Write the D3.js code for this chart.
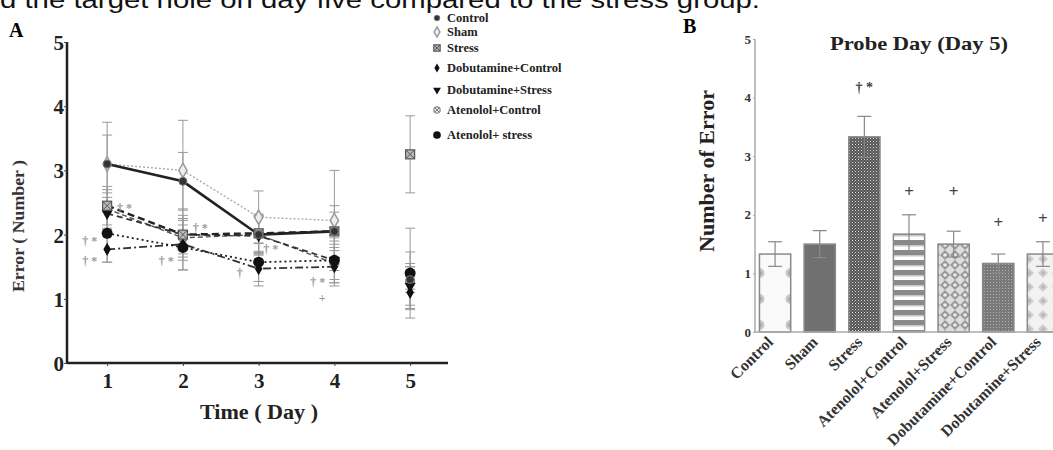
<!DOCTYPE html>
<html>
<head>
<meta charset="utf-8">
<script src="https://cdn.jsdelivr.net/npm/d3@7"></script>
<style>
body { margin: 0; background: #fff; }
svg { display: block; }
</style>
</head>
<body>
<div id="grafica"></div>
<script>
// ---- datos panel A (errores por dia)
var dias = [1, 2, 3, 4, 5];
var grupos = ['Control', 'Sham', 'Stress', 'Dobutamine+Control', 'Dobutamine+Stress', 'Atenolol+Control', 'Atenolol+ stress'];
var control     = [3.10, 2.83, 2.00, 2.05, 1.30];
var sham        = [3.10, 3.00, 2.27, 2.22, 1.35];
var stress      = [2.45, 2.00, 2.02, 2.05, 3.25];
var dobControl  = [1.77, 1.85, 1.47, 1.50, 1.10];
var dobStress   = [2.33, 2.00, 1.98, 1.60, 1.20];
var atenControl = [2.40, 1.95, 2.00, 1.55, 1.28];
var atenStress  = [2.02, 1.80, 1.57, 1.60, 1.40];
var controlErr     = [0.45, 0.45, 0.30, 0.40, 0.20];
var shamErr        = [0.65, 0.78, 0.41, 0.78, 0.20];
var stressErr      = [0.30, 0.40, 0.30, 0.30, 0.60];
var dobControlErr  = [0.20, 0.40, 0.27, 0.30, 0.25];
var dobStressErr   = [0.25, 0.30, 0.30, 0.35, 0.30];
var atenControlErr = [0.30, 0.30, 0.30, 0.30, 0.45];
var atenStressErr  = [0.45, 0.35, 0.30, 0.30, 0.70];
var yTicksA = [0, 1, 2, 3, 4, 5];
// marcas de significancia (dia, valor, texto)
var marcaDia   = [0.77, 0.77, 1.23, 1.78, 2.23, 2.75, 3.16, 3.78, 3.84];
var marcaValor = [1.90, 1.59, 2.41, 1.59, 2.10, 1.40, 1.78, 1.26, 1.01];
var marcaTexto = ['† *', '† *', '† *', '† *', '† *', '†', '† *', '† *', '+'];

// ---- datos panel B (probe day)
var categorias = ['Control', 'Sham', 'Stress', 'Atenolol+Control', 'Atenolol+Stress', 'Dobutamine+Control', 'Dobutamine+Stress'];
var errores    = [1.33, 1.50, 3.33, 1.67, 1.50, 1.17, 1.33];
var sem        = [0.21, 0.23, 0.35, 0.33, 0.22, 0.16, 0.21];
var signos     = ['', '', '† *', '+', '+', '+', '+'];
var signoValor = [0, 0, 4.18, 2.40, 2.40, 1.88, 1.95];
var yTicksB = [0, 1, 2, 3, 4, 5];

var serif = "'Liberation Serif', 'DejaVu Serif', serif";

var svg = d3.select("#grafica")
	.append('svg')
	.attr("width", 1053)
	.attr("height", 450)
	.attr('id', 'svgraf');

// texto de la leyenda del articulo (cortado arriba)
svg.append("text")
	.attr("x", 0)
	.attr("y", 8)
	.attr("font-family", "'Liberation Sans', Arial, sans-serif")
	.attr("font-size", "24px")
	.attr("textLength", 760)
	.attr("lengthAdjust", "spacingAndGlyphs")
	.attr("fill", "#111")
	.text("d the target hole on day five compared to the stress group.");

// ================= PANEL A =================
var xA = d3.scaleLinear().domain([0.47, 5.5]).range([67, 448]);
var yA = d3.scaleLinear().domain([0, 5]).range([363, 42]);

var panelA = svg.append("g");

panelA.append("text")
	.attr("x", 9).attr("y", 37)
	.attr("font-family", serif).attr("font-weight", "bold")
	.attr("font-size", "20px")
	.text("A");

// ejes
var ejeYA = panelA.append("g")
	.attr("transform", "translate(67,0)")
	.call(d3.axisLeft(yA).tickValues(yTicksA).tickSize(3).tickFormat(d3.format("d")));
ejeYA.select(".domain").attr("stroke", "#222").attr("stroke-width", 2.5).attr("d", "M0," + yA(5) + "V" + yA(0));
ejeYA.selectAll(".tick line").attr("stroke", "#444");
ejeYA.selectAll(".tick text")
	.attr("font-family", serif).attr("font-weight", "bold")
	.attr("font-size", "21px").attr("fill", "#222")
	.attr("x", -3).attr("dy", "0.36em");

var ejeXA = panelA.append("g")
	.attr("transform", "translate(0,363)")
	.call(d3.axisBottom(xA).tickValues(dias).tickSize(3).tickFormat(d3.format("d")));
ejeXA.select(".domain").attr("stroke", "#222").attr("stroke-width", 2.5).attr("d", "M67,0H448");
ejeXA.selectAll(".tick line").attr("stroke", "#444");
ejeXA.selectAll(".tick text")
	.attr("font-family", serif).attr("font-weight", "bold")
	.attr("font-size", "21px").attr("fill", "#222")
	.attr("y", 10);

panelA.append("text")
	.attr("transform", "translate(24,226) rotate(-90)")
	.attr("text-anchor", "middle")
	.attr("font-family", serif).attr("font-weight", "bold")
	.attr("font-size", "16px").attr("fill", "#333")
	.attr("textLength", 132).attr("lengthAdjust", "spacingAndGlyphs")
	.text("Error ( Number )");

panelA.append("text")
	.attr("x", 259).attr("y", 419)
	.attr("text-anchor", "middle")
	.attr("font-family", serif).attr("font-weight", "bold")
	.attr("font-size", "20px").attr("fill", "#222")
	.attr("textLength", 118).attr("lengthAdjust", "spacingAndGlyphs")
	.text("Time ( Day )");

// estilos de cada serie
var valores = [control, sham, stress, dobControl, dobStress, atenControl, atenStress];
var errs = [controlErr, shamErr, stressErr, dobControlErr, dobStressErr, atenControlErr, atenStressErr];
var rayas = [null, "2,2", "7,4", "8,3,2,3", "6,4", "5,3", "2,3"];
var grosor = [2.6, 1.4, 2.4, 1.8, 1.8, 1.4, 1.8];
var colorLinea = ["#222", "#aaa", "#222", "#333", "#333", "#555", "#222"];
var marcador = ["circle", "diamondOpen", "squareX", "diamond", "triangle", "circleX", "dot"];

function dibujaMarcador(g, tipo, x, y, k) {
	k = k || 1;
	if (tipo == "circle") {
		g.append("circle").attr("cx", x).attr("cy", y).attr("r", 4 * k).attr("fill", "#333").attr("stroke", "#777");
	} else if (tipo == "diamondOpen") {
		g.append("path").attr("d", d3.symbol(d3.symbolDiamond, 60 * k * k)())
			.attr("transform", "translate(" + x + "," + y + ")")
			.attr("fill", "#eee").attr("stroke", "#999").attr("stroke-width", 1.5);
	} else if (tipo == "squareX") {
		var s = 4.5 * k;
		g.append("rect").attr("x", x - s).attr("y", y - s).attr("width", 2 * s).attr("height", 2 * s)
			.attr("fill", "#bbb").attr("stroke", "#555").attr("stroke-width", 1.2);
		g.append("path").attr("d", "M" + (x - s) + "," + (y - s) + "L" + (x + s) + "," + (y + s) + "M" + (x + s) + "," + (y - s) + "L" + (x - s) + "," + (y + s))
			.attr("stroke", "#555").attr("stroke-width", 1);
	} else if (tipo == "diamond") {
		g.append("path").attr("d", d3.symbol(d3.symbolDiamond, 50 * k * k)())
			.attr("transform", "translate(" + x + "," + y + ")").attr("fill", "#111");
	} else if (tipo == "triangle") {
		g.append("path").attr("d", d3.symbol(d3.symbolTriangle, 55 * k * k)())
			.attr("transform", "translate(" + x + "," + y + ") rotate(180)").attr("fill", "#111");
	} else if (tipo == "circleX") {
		var r = 4.5 * k;
		g.append("circle").attr("cx", x).attr("cy", y).attr("r", r).attr("fill", "#eee").attr("stroke", "#888").attr("stroke-width", 1.2);
		var d = r * 0.7;
		g.append("path").attr("d", "M" + (x - d) + "," + (y - d) + "L" + (x + d) + "," + (y + d) + "M" + (x + d) + "," + (y - d) + "L" + (x - d) + "," + (y + d))
			.attr("stroke", "#777").attr("stroke-width", 1);
	} else {
		g.append("circle").attr("cx", x).attr("cy", y).attr("r", 5.5 * k).attr("fill", "#111");
	}
}

// barras de error
var capaErr = panelA.append("g");
for (var s = 0; s < valores.length; s++) {
	for (var i = 0; i < dias.length; i++) {
		var cx = xA(dias[i]);
		var arriba = yA(valores[s][i] + errs[s][i]);
		var abajo = yA(valores[s][i] - errs[s][i]);
		capaErr.append("line").attr("x1", cx).attr("x2", cx).attr("y1", arriba).attr("y2", abajo)
			.attr("stroke", "#999").attr("stroke-width", 1);
		[arriba, abajo].forEach(function (yy) {
			capaErr.append("line").attr("x1", cx - 5).attr("x2", cx + 5).attr("y1", yy).attr("y2", yy)
				.attr("stroke", "#999").attr("stroke-width", 1);
		});
	}
}

// lineas (dias 1-4)
var linea = d3.line().x(function (d) { return xA(d[0]); }).y(function (d) { return yA(d[1]); });
var orden = [1, 5, 3, 4, 6, 2, 0];
orden.forEach(function (s) {
	var pts = dias.slice(0, 4).map(function (d, i) { return [d, valores[s][i]]; });
	panelA.append("path")
		.attr("d", linea(pts))
		.attr("fill", "none")
		.attr("stroke", colorLinea[s])
		.attr("stroke-width", grosor[s])
		.attr("stroke-dasharray", rayas[s]);
});

// marcadores
orden.forEach(function (s) {
	for (var i = 0; i < dias.length; i++) {
		dibujaMarcador(panelA, marcador[s], xA(dias[i]), yA(valores[s][i]), 1);
	}
});

// marcas de significancia
for (var m = 0; m < marcaDia.length; m++) {
	panelA.append("text")
		.attr("x", xA(marcaDia[m]))
		.attr("y", yA(marcaValor[m]))
		.attr("dy", "0.35em")
		.attr("text-anchor", "middle")
		.attr("font-family", serif).attr("font-weight", "bold")
		.attr("font-size", "12px").attr("fill", "#9a9a9a")
		.text(marcaTexto[m]);
}

// leyenda
var leyendaY = [18, 32, 48, 68, 90, 110, 135];
grupos.forEach(function (nombre, s) {
	dibujaMarcador(panelA, marcador[s], 437, leyendaY[s], 0.7);
	panelA.append("text")
		.attr("x", 447).attr("y", leyendaY[s])
		.attr("dy", "0.35em")
		.attr("font-family", serif).attr("font-weight", "bold")
		.attr("font-size", "12.5px").attr("fill", "#222")
		.text(nombre);
});

// ================= PANEL B =================
var defs = svg.append("defs");
function patron(id, w, h, fondo, dibuja) {
	var p = defs.append("pattern").attr("id", id).attr("patternUnits", "userSpaceOnUse")
		.attr("width", w).attr("height", h);
	p.append("rect").attr("width", w).attr("height", h).attr("fill", fondo);
	dibuja(p);
}
patron("pControl", 31, 26, "#fafafa", function (p) {
	p.append("circle").attr("cx", 15.5).attr("cy", 13).attr("r", 5).attr("fill", "#c8c8c8");
	p.append("circle").attr("cx", 15.5).attr("cy", 13).attr("r", 2.5).attr("fill", "#aaa");
});
patron("pSham", 4, 4, "#707070", function (p) {});
patron("pStress", 3, 3, "#555", function (p) {
	p.append("rect").attr("x", 0).attr("y", 0).attr("width", 1).attr("height", 1).attr("fill", "#ddd");
	p.append("rect").attr("x", 1.5).attr("y", 1.5).attr("width", 1).attr("height", 1).attr("fill", "#aaa");
});
patron("pAtenC", 10, 10, "#fff", function (p) {
	p.append("rect").attr("x", 0).attr("y", 0).attr("width", 10).attr("height", 5).attr("fill", "#8a8a8a");
	p.append("rect").attr("x", 0).attr("y", 5).attr("width", 10).attr("height", 1.5).attr("fill", "#c8c8c8");
});
patron("pAtenS", 10, 10, "#ddd", function (p) {
	p.append("path").attr("d", "M5,0L10,5L5,10L0,5Z").attr("fill", "#999");
	p.append("circle").attr("cx", 5).attr("cy", 5).attr("r", 1.8).attr("fill", "#eee");
});
patron("pDobC", 3, 3, "#7a7a7a", function (p) {
	p.append("rect").attr("x", 0).attr("y", 0).attr("width", 1).attr("height", 1).attr("fill", "#b0b0b0");
});
patron("pDobS", 14, 14, "#f2f2f2", function (p) {
	p.append("path").attr("d", "M7,2L12,7L7,12L2,7Z").attr("fill", "#d0d0d0");
	p.append("circle").attr("cx", 7).attr("cy", 7).attr("r", 2).attr("fill", "#bbb");
});
var rellenos = ["url(#pControl)", "url(#pSham)", "url(#pStress)", "url(#pAtenC)", "url(#pAtenS)", "url(#pDobC)", "url(#pDobS)"];

var xB = d3.scaleBand().domain(categorias).range([755, 1063]).paddingInner(0.3).paddingOuter(0.1);
var yB = d3.scaleLinear().domain([0, 5]).range([332, 39]);

var panelB = svg.append("g");

panelB.append("text")
	.attr("x", 683).attr("y", 33)
	.attr("font-family", serif).attr("font-weight", "bold")
	.attr("font-size", "20px")
	.text("B");

panelB.append("text")
	.attr("x", 919).attr("y", 50)
	.attr("text-anchor", "middle")
	.attr("font-family", serif).attr("font-weight", "bold")
	.attr("font-size", "19px").attr("fill", "#222")
	.attr("textLength", 178).attr("lengthAdjust", "spacingAndGlyphs")
	.text("Probe Day (Day 5)");

panelB.append("text")
	.attr("transform", "translate(714,171) rotate(-90)")
	.attr("text-anchor", "middle")
	.attr("font-family", serif).attr("font-weight", "bold")
	.attr("font-size", "20px").attr("fill", "#222")
	.attr("textLength", 162).attr("lengthAdjust", "spacingAndGlyphs")
	.text("Number of Error");

var ejeYB = panelB.append("g")
	.attr("transform", "translate(755,0)")
	.call(d3.axisLeft(yB).tickValues(yTicksB).tickSize(2).tickFormat(d3.format("d")));
ejeYB.select(".domain").attr("stroke", "#aaa").attr("stroke-width", 1.5).attr("d", "M0," + yB(5) + "V" + yB(0));
ejeYB.selectAll(".tick line").attr("stroke", "#aaa");
ejeYB.selectAll(".tick text")
	.attr("font-family", serif).attr("font-weight", "bold")
	.attr("font-size", "13px").attr("fill", "#333").attr("x", -4);

// barras
panelB.selectAll(".barra")
	.data(categorias)
	.enter().append("rect")
	.attr("class", "barra")
	.attr("x", function (d) { return xB(d); })
	.attr("y", function (d, i) { return yB(errores[i]); })
	.attr("width", xB.bandwidth())
	.attr("height", function (d, i) { return yB(0) - yB(errores[i]); })
	.attr("fill", function (d, i) { return rellenos[i]; })
	.attr("stroke", "#8a8a8a")
	.attr("stroke-width", 1.5);

// barras de error y signos
categorias.forEach(function (c, i) {
	var cx = xB(c) + xB.bandwidth() / 2;
	var t = yB(errores[i] + sem[i]);
	var b = yB(errores[i] - sem[i]);
	panelB.append("line").attr("x1", cx).attr("x2", cx).attr("y1", t).attr("y2", b)
		.attr("stroke", "#888").attr("stroke-width", 1.2);
	[t, b].forEach(function (yy) {
		panelB.append("line").attr("x1", cx - 7).attr("x2", cx + 7).attr("y1", yy).attr("y2", yy)
			.attr("stroke", "#888").attr("stroke-width", 1.2);
	});
	if (signos[i]) {
		panelB.append("text")
			.attr("x", cx).attr("y", yB(signoValor[i]))
			.attr("dy", "0.35em")
			.attr("text-anchor", "middle")
			.attr("font-family", serif).attr("font-weight", "bold")
			.attr("font-size", signos[i] == "+" ? "17px" : "14px")
			.attr("fill", "#444")
			.text(signos[i]);
	}
});

// eje x
panelB.append("line")
	.attr("x1", 755).attr("x2", 1053).attr("y1", yB(0)).attr("y2", yB(0))
	.attr("stroke", "#aaa").attr("stroke-width", 1.5);

categorias.forEach(function (c) {
	var cx = xB(c) + xB.bandwidth() / 2;
	panelB.append("text")
		.attr("transform", "translate(" + (cx - 1) + ",343) rotate(-45)")
		.attr("text-anchor", "end")
		.attr("font-family", serif).attr("font-weight", "bold")
		.attr("font-size", "16px").attr("fill", "#333")
		.text(c);
});
</script>
</body>
</html>
